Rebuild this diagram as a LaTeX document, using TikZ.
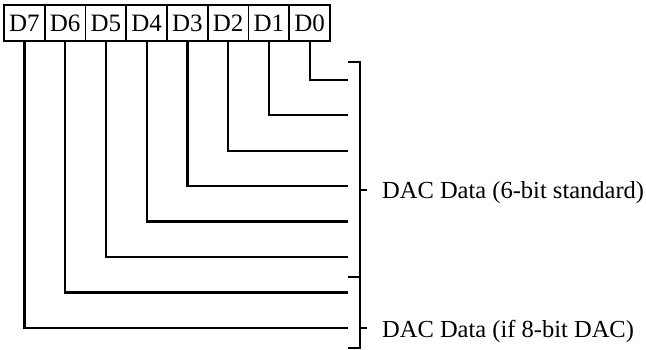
\documentclass[tikz,border=0pt]{standalone}
\usepackage{fontspec}
\setmainfont{Liberation Serif}
\usetikzlibrary{positioning}

\begin{document}
\begin{tikzpicture}[x=1pt, y=-1pt,
    bitbox/.style={draw, line width=1.8pt, minimum width=40.75pt, minimum height=36pt,
      inner sep=0pt, outer sep=0pt, font=\fontsize{25}{28}\selectfont},
    wire/.style={line width=2.2pt},
    lbl/.style={anchor=base west, inner sep=0pt, font=\fontsize{24.5}{28}\selectfont}]
  \useasboundingbox (0,0) rectangle (646,350);
  \node[bitbox] (d7) at (24.4,23) {D7};
  \node[bitbox, right=0pt of d7] (d6) {D6};
  \node[bitbox, right=0pt of d6] (d5) {D5};
  \node[bitbox, right=0pt of d5] (d4) {D4};
  \node[bitbox, right=0pt of d4] (d3) {D3};
  \node[bitbox, right=0pt of d3] (d2) {D2};
  \node[bitbox, right=0pt of d2] (d1) {D1};
  \node[bitbox, right=0pt of d1] (d0) {D0};
  \foreach \i in {0,...,7}
    \coordinate (e\i) at (348,{80+35.4*\i});
  \foreach \i in {0,...,7}
    \draw[wire] (d\i.south) |- (e\i);
  % bracket
  \coordinate (btop) at (360,62);
  \coordinate (bbot) at (360,348);
  \coordinate (bmid) at (360,277);
  \coordinate (b6) at (360,190);
  \coordinate (b8) at (360,328);
  \draw[wire] ([xshift=-12pt]btop) -- (btop) -- (bbot) -- ([xshift=-12pt]bbot);
  \draw[wire] (bmid) -- ++(-12,0);
  \draw[wire] (b6) -- ++(7,0);
  \draw[wire] (b8) -- ++(7,0);
  \node[lbl] (std) at (382,199) {DAC Data (6-bit standard)};
  \node[lbl] (ext) at (382,337) {DAC Data (if 8-bit DAC)};
\end{tikzpicture}
\end{document}
